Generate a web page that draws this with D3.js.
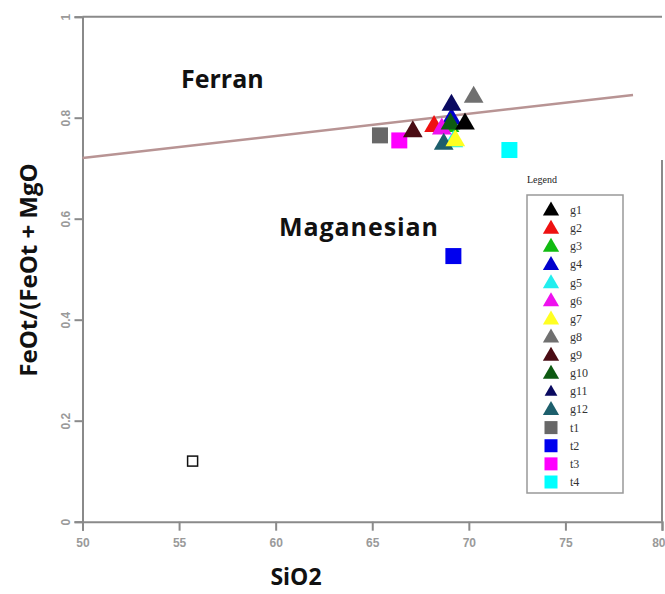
<!DOCTYPE html>
<html><head><meta charset="utf-8">
<script src="https://cdn.jsdelivr.net/npm/d3@7"></script>
<style>body{margin:0;background:#fff}svg{display:block}</style>
</head><body>
<svg id="c" width="665" height="594"></svg>
<script>
// ---- data ----
const xTicks = [50, 55, 60, 65, 70, 75, 80];
const yTicks = [0, 0.2, 0.4, 0.6, 0.8, 1];
const groupNames = ["g1","g2","g3","g4","g5","g6","g7","g8","g9","g10","g11","g12","t1","t2","t3","t4"];
const groupShapes = ["tri","tri","tri","tri","tri","tri","tri","tri","tri","tri","tri","tri","sq","sq","sq","sq"];
const groupColors = ["#000000","#ee1111","#11bb11","#0000cc","#22eeee","#ee11ee","#ffff22","#707070","#4a0c14","#0d5a12","#0a0a60","#1d5f6c","#686868","#0000ee","#ff00ff","#00ffff"];
const sio2 = [69.8, 68.2, 69.0, 69.1, 69.2, 68.6, 69.3, 70.25, 67.1, 69.05, 69.1, 68.7, 65.4, 69.2, 66.4, 72.1];
const feRatio = [0.79, 0.785, 0.785, 0.80, 0.755, 0.78, 0.757, 0.843, 0.775, 0.79, 0.827, 0.75, 0.765, 0.526, 0.755, 0.736];
const unlabeledPoint = [55.7, 0.12];
const boundaryX = [50, 78.5];
const boundaryY = [0.72, 0.845];

// ---- scales ----
const svg = d3.select("#c");
const x = d3.scaleLinear().domain([50, 80]).range([82.5, 662]);
const y = d3.scaleLinear().domain([0, 1]).range([521.7, 16.7]);
const axisColor = "#8a8a8a";
const titleFont = "Open Sans, Liberation Sans, sans-serif";

// frame: top and right
svg.append("line").attr("x1", x(50)).attr("x2", x(80)).attr("y1", y(1)).attr("y2", y(1))
  .attr("stroke", axisColor).attr("stroke-width", 2);
svg.append("line").attr("x1", x(80)).attr("x2", x(80)).attr("y1", 160).attr("y2", y(0))
  .attr("stroke", axisColor).attr("stroke-width", 2);

// axes
const xa = svg.append("g").attr("transform", `translate(0,${y(0)})`)
  .call(d3.axisBottom(x).tickValues(xTicks).tickSize(9).tickPadding(8).tickFormat(d3.format("d")));
const ya = svg.append("g").attr("transform", `translate(${x(50)},0)`)
  .call(d3.axisLeft(y).tickValues(yTicks).tickSize(8).tickPadding(5).tickFormat(d => d === 0 ? "0" : d === 1 ? "1" : d3.format(".1f")(d)));
[xa, ya].forEach(a => {
  a.select(".domain").attr("stroke", axisColor).attr("stroke-width", 2);
  a.selectAll(".tick line").attr("stroke", axisColor).attr("stroke-width", 2);
  a.selectAll("text").attr("fill", "#9a9a9a").attr("font-family", "Liberation Sans, Arial, sans-serif")
    .attr("font-size", 12).attr("font-weight", "bold");
});
xa.selectAll(".tick text").filter(d => d === 80).attr("text-anchor", "end").attr("x", 3);
ya.selectAll(".tick text").attr("text-anchor", "middle").attr("x", 0).attr("y", 0)
  .attr("transform", "translate(-17,0) rotate(-90)").attr("dy", "0.35em");

// boundary line
svg.append("line").attr("x1", x(boundaryX[0])).attr("y1", y(boundaryY[0]))
  .attr("x2", x(boundaryX[1])).attr("y2", y(boundaryY[1]))
  .attr("stroke", "#b89494").attr("stroke-width", 2.5);

// region labels
svg.append("text").attr("x", 181).attr("y", 88).text("Ferran")
  .attr("font-family", titleFont).attr("font-weight", "bold").attr("font-size", 25).attr("fill", "#111");
svg.append("text").attr("x", 279).attr("y", 236).text("Maganesian")
  .attr("font-family", titleFont).attr("font-weight", "bold").attr("font-size", 25).attr("fill", "#111")
  .attr("textLength", 159);

// axis titles
svg.append("text").attr("transform", "translate(37,270) rotate(-90)").attr("text-anchor", "middle")
  .text("FeOt/(FeOt + MgO").attr("font-family", titleFont)
  .attr("font-weight", "bold").attr("font-size", 24).attr("fill", "#111");
svg.append("text").attr("x", 296).attr("y", 585).attr("text-anchor", "middle").text("SiO2")
  .attr("font-family", titleFont).attr("font-weight", "bold").attr("font-size", 23).attr("fill", "#111");

// symbols
const triPath = s => `M0,${-s*0.6}L${s*0.58},${s*0.4}L${-s*0.58},${s*0.4}Z`;
function drawMark(g, shape, color, s) {
  if (shape === "tri") g.append("path").attr("d", triPath(s)).attr("fill", color);
  else g.append("rect").attr("x", -s/2).attr("y", -s/2).attr("width", s).attr("height", s).attr("fill", color);
}

// unlabeled open square
svg.append("rect").attr("x", x(unlabeledPoint[0]) - 5).attr("y", y(unlabeledPoint[1]) - 5)
  .attr("width", 10).attr("height", 10).attr("fill", "none").attr("stroke", "#111").attr("stroke-width", 1.5);

// data points (draw order so the visible ones sit on top)
const order = [2, 3, 4, 12, 14, 8, 1, 5, 11, 6, 9, 10, 0, 7, 15, 13];
order.forEach(i => {
  const g = svg.append("g").attr("transform", `translate(${x(sio2[i])},${y(feRatio[i])})`);
  drawMark(g, groupShapes[i], groupColors[i], groupShapes[i] === "tri" ? 17 : 16);
});

// legend
const lg = svg.append("g");
lg.append("text").attr("x", 527).attr("y", 183).text("Legend")
  .attr("font-family", "Liberation Serif, serif").attr("font-size", 10).attr("fill", "#222");
lg.append("rect").attr("x", 527).attr("y", 195).attr("width", 96).attr("height", 298)
  .attr("fill", "#fff").attr("stroke", "#999").attr("stroke-width", 1.5);
const ly = d3.scaleLinear().domain([0, groupNames.length - 1]).range([210, 482]);
groupNames.forEach((n, i) => {
  const g = lg.append("g").attr("transform", `translate(551,${ly(i)})`);
  drawMark(g, groupShapes[i], groupColors[i], groupShapes[i] === "tri" ? (i === 10 ? 11 : 14) : 13);
  lg.append("text").attr("x", 570).attr("y", ly(i) + 4).text(n)
    .attr("font-family", "Liberation Serif, serif").attr("font-size", 12).attr("fill", "#333");
});
</script>
</body></html>
